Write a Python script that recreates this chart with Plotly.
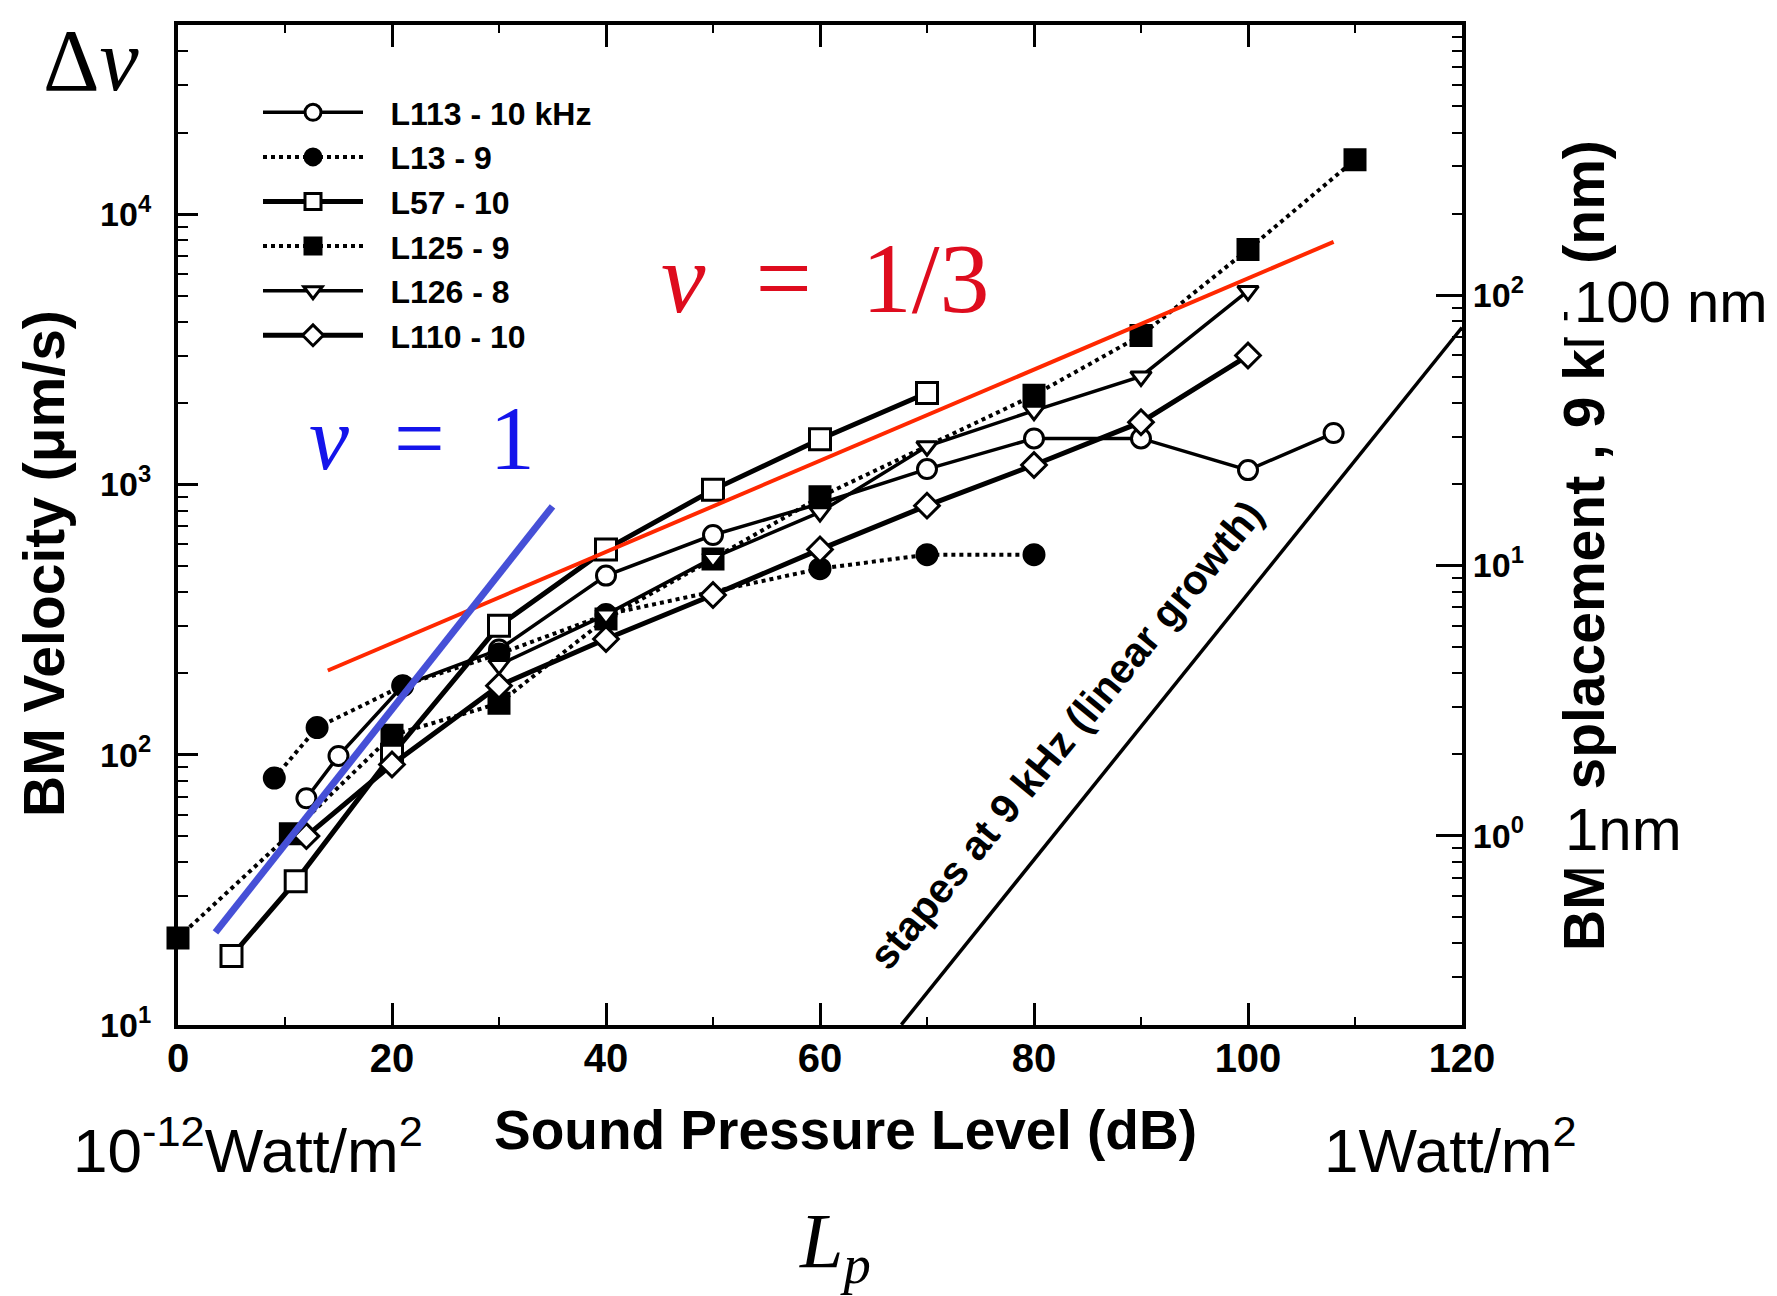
import plotly.graph_objects as go

# ---------------- data ----------------
sound_db_ticks = [0, 20, 40, 60, 80, 100, 120]

l113_x = [12, 15, 21, 30, 40, 50, 60, 70, 80, 90, 100, 108]
l113_y = [69, 99, 180, 245, 460, 650, 850, 1140, 1480, 1480, 1130, 1550]

l13_x = [9, 13, 21, 30, 40, 60, 70, 80]
l13_y = [82, 126, 180, 236, 330, 488, 550, 550]

l57_x = [5, 11, 20, 30, 40, 50, 60, 70]
l57_y = [18, 34, 100, 300, 575, 955, 1470, 2180]

l125_x = [0, 10.5, 20, 30, 40, 50, 60, 80, 90, 100, 110]
l125_y = [21, 51, 118, 155, 318, 530, 900, 2140, 3560, 7400, 15900]

l126_x = [30, 40, 50, 60, 70, 80, 90, 100]
l126_y = [215, 330, 535, 790, 1385, 1875, 2510, 5200]

l110_x = [12, 20, 30, 40, 50, 60, 70, 80, 90, 100]
l110_y = [50, 92, 180, 268, 390, 575, 835, 1180, 1700, 3000]

stapes_x = [67.6, 120]
stapes_nm = [0.2, 76]

nu13_x = [14, 108]
nu13_y = [205, 7900]
nu1_x = [3.5, 35]
nu1_y = [22, 830]

vel_ticks = [10, 100, 1000, 10000]
vel_ticktext = ["10<sup>1</sup>", "10<sup>2</sup>", "10<sup>3</sup>", "10<sup>4</sup>"]
disp_ticks = [1, 10, 100]
disp_ticktext = ["10<sup>0</sup>", "10<sup>1</sup>", "10<sup>2</sup>"]

# ---------------- styling ----------------
W, H = 1777, 1296
L, R, T, B = 170, 1454, 17, 1017  # plot area in pixels
BOLD = "Liberation Sans, Arial, sans-serif"
SANS = "Liberation Sans, Arial, sans-serif"
SERIF = "Liberation Serif, DejaVu Serif, serif"


def pp(X, Y):
    return (X - L) / (R - L), (B - Y) / (B - T)


def minor_vals(decades):
    out = []
    for d in decades:
        for k in range(2, 10):
            out.append(k * 10 ** d)
    return out


fig = go.Figure()

series = [
    ("L113 - 10 kHz", l113_x, l113_y, "solid", 3.5, "circle", "white", 19),
    ("L13 - 9", l13_x, l13_y, "dot", 4, "circle", "black", 20),
    ("L57 - 10", l57_x, l57_y, "solid", 5, "square", "white", 21),
    ("L125 - 9", l125_x, l125_y, "dot", 4, "square", "black", 20),
    ("L126 - 8", l126_x, l126_y, "solid", 3.5, "triangle-down", "white", 18),
    ("L110 - 10", l110_x, l110_y, "solid", 5, "diamond", "white", 19),
]
for name, xs, ys, dash, lw, sym, fill, ms in series:
    fig.add_trace(go.Scatter(
        x=xs, y=ys, name="\u2002\u2009" + name, mode="lines+markers",
        line=dict(color="black", width=lw, dash=dash),
        marker=dict(symbol=sym, size=ms, color=fill, line=dict(color="black", width=3)),
        cliponaxis=False,
    ))

# stapes (linear growth) line on the displacement axis
fig.add_trace(go.Scatter(
    x=stapes_x, y=stapes_nm, yaxis="y2", mode="lines", showlegend=False,
    line=dict(color="black", width=3.5),
))

# slope guides
fig.add_trace(go.Scatter(x=nu13_x, y=nu13_y, mode="lines", showlegend=False,
                         line=dict(color="rgb(255,40,0)", width=4)))
fig.add_trace(go.Scatter(x=nu1_x, y=nu1_y, mode="lines", showlegend=False,
                         line=dict(color="rgb(70,80,215)", width=7)))

ann = []


def add_text(X, Y, text, size, family, color="black", angle=0, weight="normal", bg=None, pad=1):
    x, y = pp(X, Y)
    d = dict(x=x, y=y, xref="paper", yref="paper", text=text, showarrow=False,
             xanchor="center", yanchor="middle", textangle=angle,
             font=dict(size=size, family=family, color=color, weight=weight))
    if bg:
        d["bgcolor"] = bg
        d["borderpad"] = pad
    ann.append(d)


add_text(837, 1122, "Sound Pressure Level (dB)", 55, BOLD, weight="bold")
add_text(36, 556, "BM Velocity (\u03bcm/s)", 57, BOLD, angle=-90, weight="bold")
add_text(1576, 538, "BM Displacement , 9 kHz (nm)", 57, BOLD, angle=-90, weight="bold")
add_text(1058, 727, "stapes at 9 kHz (linear growth)", 41, BOLD, angle=-50.5, weight="bold")
add_text(1662, 293, "100 nm", 58, SANS, bg="white", pad=6)
add_text(1615, 822, "1nm", 60, SANS, bg="white", pad=6)
add_text(83, 52, "\u0394<i>v</i>", 88, SERIF)
add_text(818, 270, "<i>\u03bd</i>\u2002=\u20021/3", 100, SERIF, color="rgb(222,12,30)")
add_text(414, 430, "<i>\u03bd</i>\u2002=\u20021", 90, SERIF, color="rgb(20,20,235)")
add_text(827, 1238, "<i>L</i><sub><i>p</i></sub>", 78, SERIF)
add_text(240, 1138, "10<sup>-12</sup>Watt/m<sup>2</sup>", 62, SANS)
add_text(1442, 1138, "1Watt/m<sup>2</sup>", 62, SANS)

lx, ly = pp(250, 77)

fig.update_layout(
    width=W, height=H,
    margin=dict(l=L, r=W - R, t=T, b=H - B, pad=0),
    paper_bgcolor="white", plot_bgcolor="white",
    showlegend=True,
    legend=dict(x=lx, y=ly, xanchor="left", yanchor="top", bgcolor="rgba(0,0,0,0)",
                font=dict(size=32, family=BOLD, color="black", weight="bold"),
                itemwidth=100, tracegroupgap=0),
    annotations=ann,
    xaxis=dict(
        range=[0, 120], tickvals=sound_db_ticks, ticks="inside", ticklen=22, tickwidth=2.5,
        tickcolor="black", showline=True, linecolor="black", linewidth=4, mirror="ticks",
        showgrid=False, zeroline=False, ticklabelstandoff=-5,
        tickfont=dict(size=40, family=BOLD, color="black", weight="bold"),
        minor=dict(dtick=10, ticks="inside", ticklen=8, tickwidth=2, tickcolor="black", showgrid=False),
    ),
    yaxis=dict(
        type="log", range=[1, 4.70], tickvals=vel_ticks, ticktext=vel_ticktext,
        ticks="inside", ticklen=20, tickwidth=3, tickcolor="black",
        showline=True, linecolor="black", linewidth=4, mirror=False,
        showgrid=False, zeroline=False, ticklabelstandoff=16,
        tickfont=dict(size=34, family=BOLD, color="black", weight="bold"),
        minor=dict(tickmode="array", tickvals=minor_vals([1, 2, 3, 4]), ticks="inside",
                   ticklen=10, tickwidth=2, tickcolor="black", showgrid=False),
    ),
    yaxis2=dict(
        type="log", range=[-0.70, 3.0], overlaying="y", side="right",
        tickvals=disp_ticks, ticktext=disp_ticktext,
        ticks="inside", ticklen=26, tickwidth=3, tickcolor="black",
        showline=True, linecolor="black", linewidth=4,
        showgrid=False, zeroline=False, ticklabelstandoff=0,
        tickfont=dict(size=34, family=BOLD, color="black", weight="bold"),
        minor=dict(tickmode="array", tickvals=minor_vals([-1, 0, 1, 2]), ticks="inside",
                   ticklen=10, tickwidth=2, tickcolor="black", showgrid=False),
    ),
)

fig.write_html("out.html")
